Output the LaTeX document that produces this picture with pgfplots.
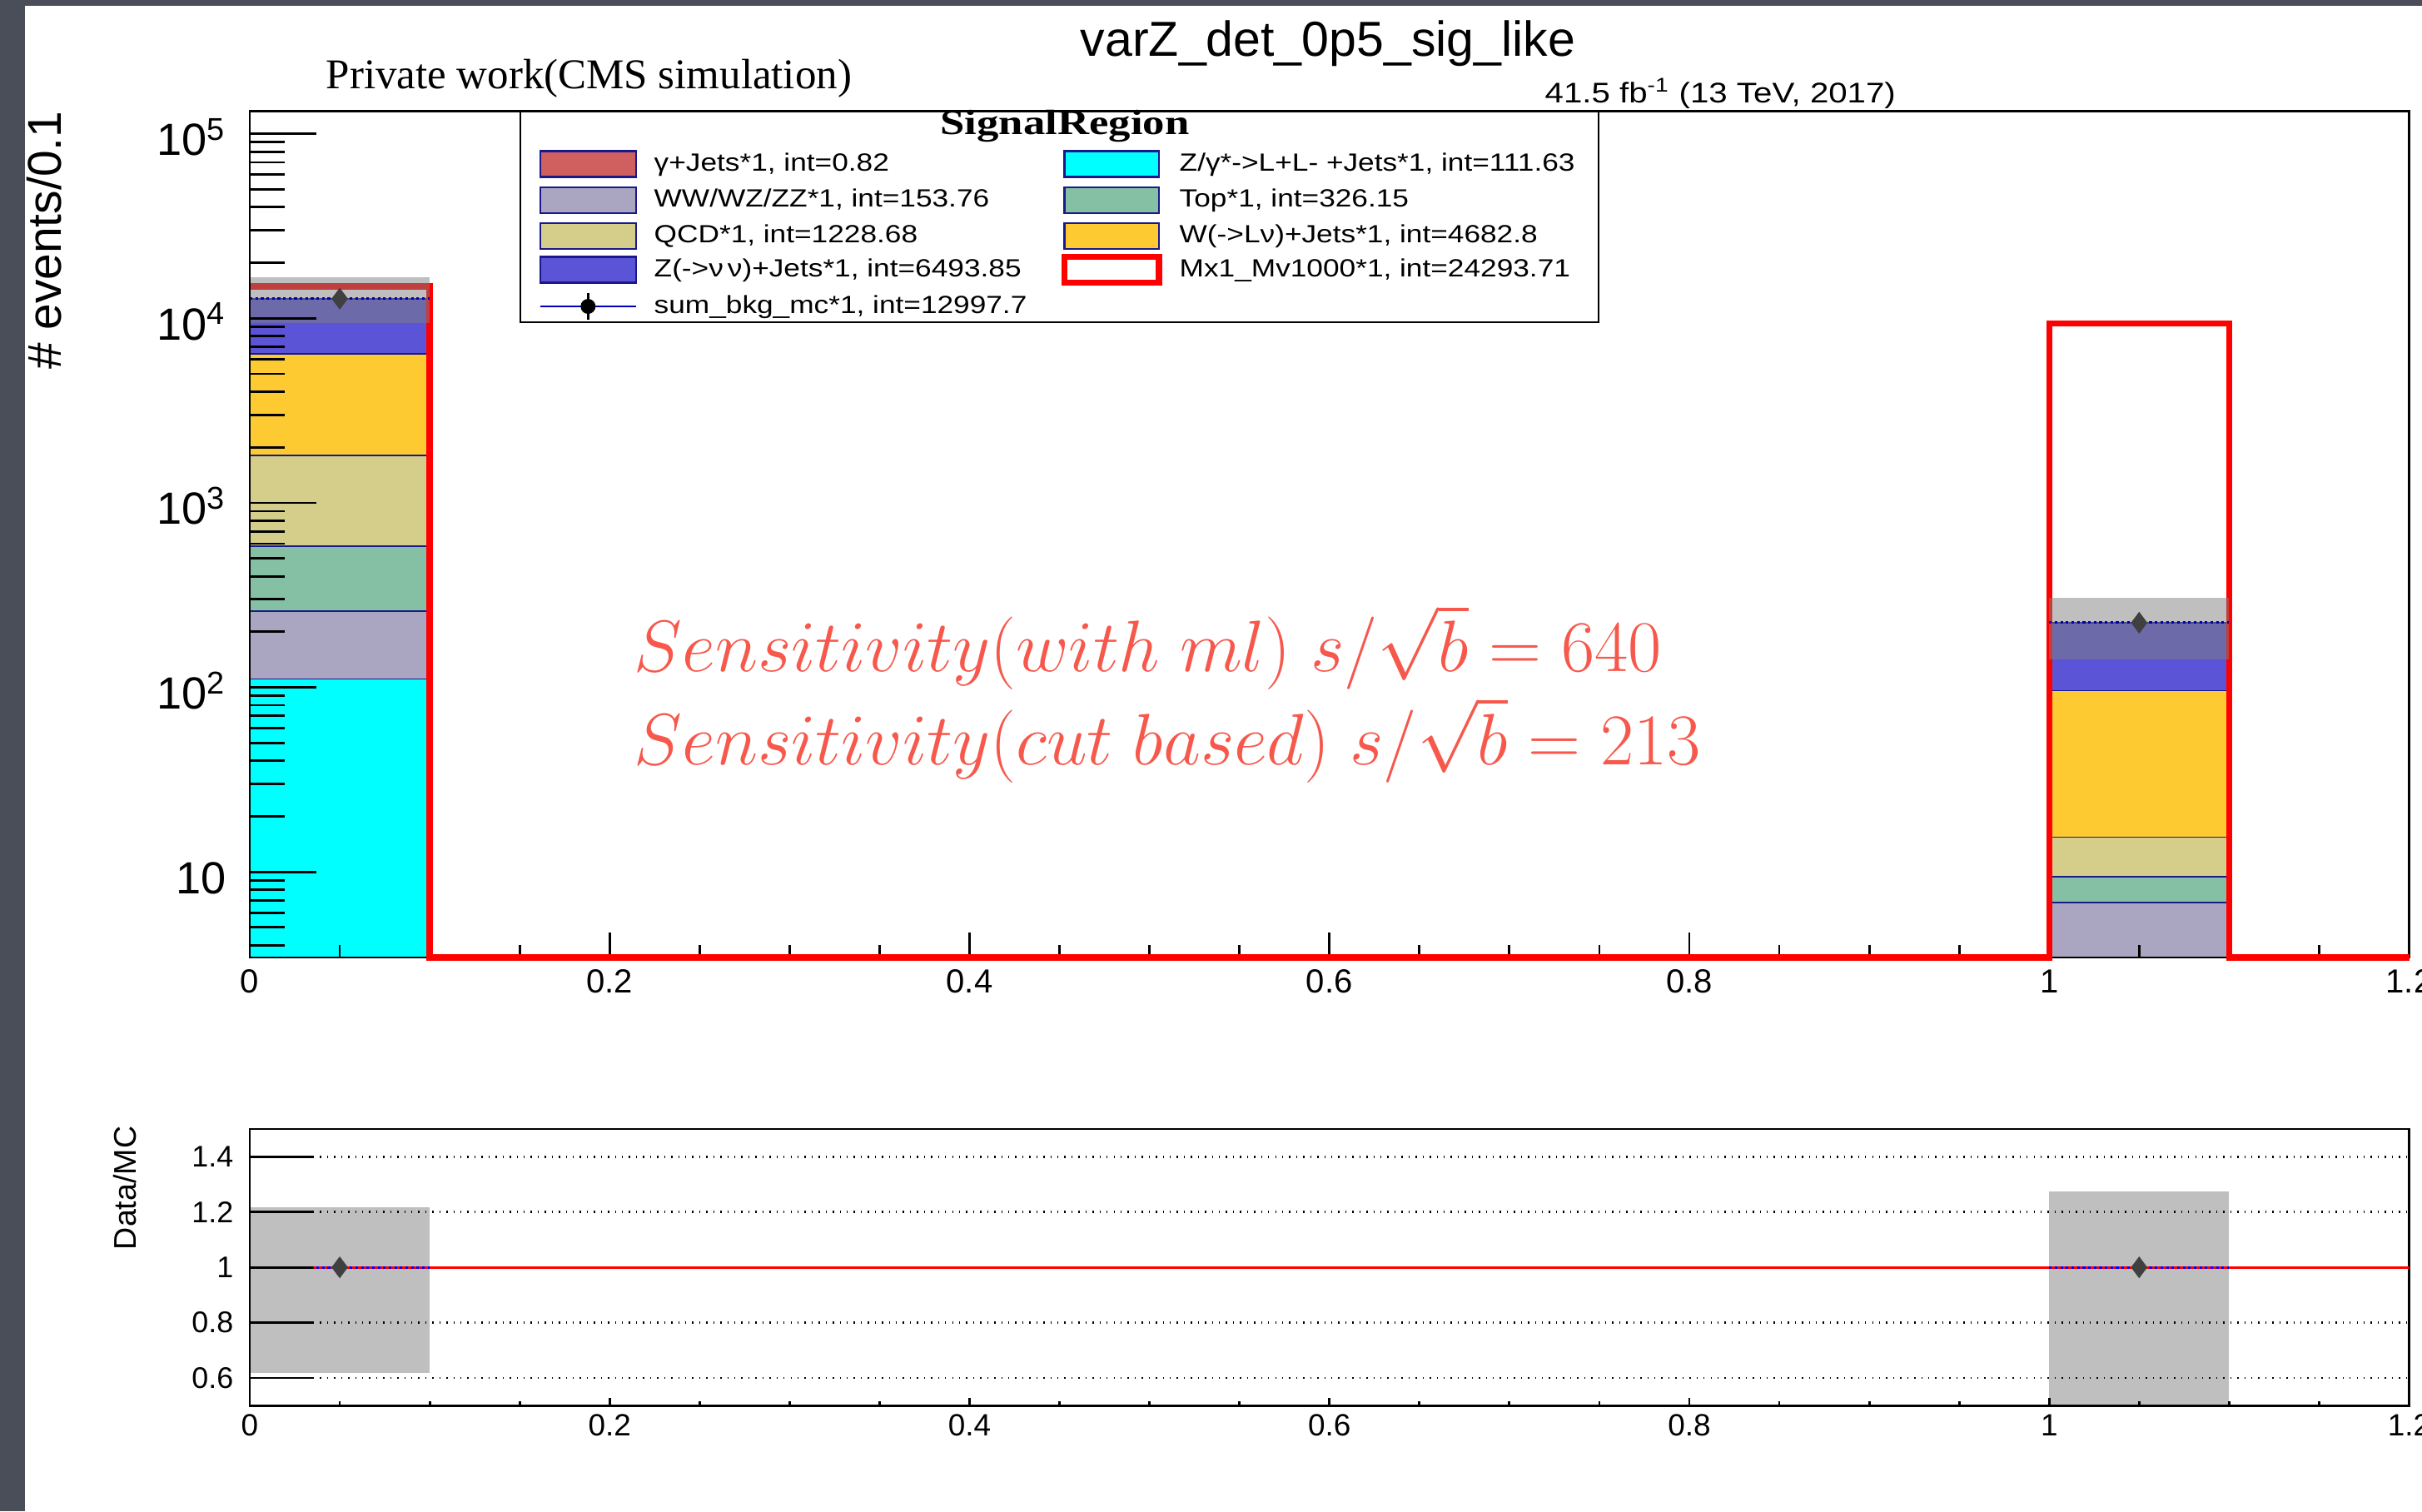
\documentclass[border=0pt]{standalone}
\usepackage{fontspec}
\setmainfont{Liberation Sans}
\newfontfamily\prfont{Liberation Serif}
\newfontfamily\legfont[FakeStretch=1.18]{Liberation Sans}
\newfontfamily\titfont[FakeStretch=1.25]{Liberation Serif}
\usepackage{xcolor}
\usepackage{pgfplots}
\pgfplotsset{compat=1.18}

\definecolor{cgam}{RGB}{208,95,95}
\definecolor{cvv}{RGB}{170,166,194}
\definecolor{cqcd}{RGB}{212,206,138}
\definecolor{cznn}{RGB}{91,84,214}
\definecolor{cdy}{RGB}{0,255,255}
\definecolor{ctop}{RGB}{134,192,164}
\definecolor{cw}{RGB}{254,202,50}
\definecolor{cnavy}{RGB}{25,25,140}
\definecolor{csens}{RGB}{247,88,76}
\definecolor{slate}{RGB}{74,78,88}

\newcommand{\fs}[1]{\fontsize{#1}{#1}\selectfont}

\begin{document}
\begin{tikzpicture}
\useasboundingbox (0,0) rectangle (29.09,-18.15);
\clip (0,0) rectangle (29.09,-18.15);
\fill[white] (0,0) rectangle (29.09,-18.15);
\fill[slate] (0,0) rectangle (0.30,-18.15);
\fill[slate] (0,0) rectangle (29.09,-0.074);

% stacked backgrounds (cumulative heights, bin 0-0.1 and bin 1.0-1.1)
\begin{axis}[scale only axis, width=25.935cm, height=10.167cm, at={(3cm,-11.5cm)}, anchor=south west,
  xmin=0, xmax=1.2, ymode=log, ymin=3.434, ymax=1.329e5,
  xtick=\empty, ytick=\empty, axis line style={line width=0.8pt}]
  \addplot[draw=cnavy, line width=0.5pt, fill=cgam] coordinates {(0,1) (0,12773.7) (0.1,12773.7) (0.1,1) (1,1) (1,224) (1.1,224) (1.1,1)};
  \addplot[draw=cnavy, line width=0.5pt, fill=cznn] coordinates {(0,1) (0,12772.9) (0.1,12772.9) (0.1,1) (1,1) (1,224) (1.1,224) (1.1,1)};
  \addplot[draw=cnavy, line width=0.5pt, fill=cw] coordinates {(0,1) (0,6407.0) (0.1,6407.0) (0.1,1) (1,1) (1,96.0) (1.1,96.0) (1.1,1)};
  \addplot[draw=cnavy, line width=0.5pt, fill=cqcd] coordinates {(0,1) (0,1804.8) (0.1,1804.8) (0.1,1) (1,1) (1,15.4) (1.1,15.4) (1.1,1)};
  \addplot[draw=cnavy, line width=0.5pt, fill=ctop] coordinates {(0,1) (0,582.1) (0.1,582.1) (0.1,1) (1,1) (1,9.43) (1.1,9.43) (1.1,1)};
  \addplot[draw=cnavy, line width=0.5pt, fill=cvv] coordinates {(0,1) (0,258.6) (0.1,258.6) (0.1,1) (1,1) (1,6.83) (1.1,6.83) (1.1,1)};
  \addplot[draw=cnavy, line width=0.5pt, fill=cdy] coordinates {(0,1) (0,111.0) (0.1,111.0) (0.1,1) (1,1) (1,0.63) (1.1,0.63) (1.1,1)};
\end{axis}

% x ticks of the main panel
\begin{axis}[scale only axis, width=25.935cm, height=10.167cm, at={(3cm,-11.5cm)}, anchor=south west,
  xmin=0, xmax=1.2, ymode=log, ymin=3.434, ymax=1.329e5,
  hide y axis, axis x line*=bottom, x axis line style={line width=0.8pt},
  xtick={0,0.2,0.4,0.6,0.8,1,1.2}, xticklabels={0,0.2,0.4,0.6,0.8,1,1.2},
  minor x tick num=3, tick align=inside,
  major tick length=0.30cm, minor tick length=0.15cm,
  tick style={line width=0.8pt, black},
  xticklabel style={font=\fs{11.4}, anchor=north, inner sep=0pt, yshift=-0.14cm}]
\end{axis}

% signal, uncertainty band and summed background
\begin{axis}[scale only axis, width=25.935cm, height=10.167cm, at={(3cm,-11.5cm)}, anchor=south west,
  xmin=0, xmax=1.2, ymode=log, ymin=3.434, ymax=1.329e5,
  axis lines=none, clip=false]
  \addplot[red, line width=2.1pt] coordinates {(0,14890) (0.1,14890) (0.1,3.434) (1,3.434) (1,9403.7) (1.1,9403.7) (1.1,3.434) (1.2,3.434)};
  \addplot[fill=gray, fill opacity=0.5, draw=none] coordinates {(0,9400) (0.1,9400) (0.1,16760) (0,16760)};
  \addplot[fill=gray, fill opacity=0.5, draw=none] coordinates {(1,141) (1.1,141) (1.1,307) (1,307)};
  \addplot[blue!70!black, densely dotted, line width=0.9pt, unbounded coords=jump] coordinates {(0,12773.7) (0.1,12773.7) (0.5,nan) (1,224) (1.1,224)};
  \addplot[only marks, mark=diamond*, mark size=3.4pt, black!75] coordinates {(0.05,12773.7) (1.05,224)};
\end{axis}

% y ticks of the main panel
\begin{axis}[scale only axis, width=25.935cm, height=10.167cm, at={(3cm,-11.5cm)}, anchor=south west,
  xmin=0, xmax=1.2, ymode=log, ymin=3.434, ymax=1.329e5,
  hide x axis, axis y line*=left, y axis line style={line width=0.8pt},
  ytick={10,100,1000,10000,100000},
  yticklabels={10,10\textsuperscript{2},10\textsuperscript{3},10\textsuperscript{4},10\textsuperscript{5}},
  minor ytick={4,5,6,7,8,9,20,30,40,50,60,70,80,90,200,300,400,500,600,700,800,900,2000,3000,4000,5000,6000,7000,8000,9000,20000,30000,40000,50000,60000,70000,80000,90000},
  tick align=inside, major tick length=0.80cm, minor tick length=0.42cm,
  tick style={line width=0.8pt, black},
  yticklabel style={font=\fs{15.4}, anchor=base east, inner sep=0pt, xshift=-0.28cm, yshift=-0.26cm}]
\end{axis}

% ratio panel
\begin{axis}[scale only axis, width=25.935cm, height=3.323cm, at={(3cm,-16.883cm)}, anchor=south west,
  xmin=0, xmax=1.2, ymin=0.5, ymax=1.5,
  xtick=\empty, ytick=\empty, axis line style={line width=0.8pt}]
  \addplot[fill=gray, fill opacity=0.5, draw=none] coordinates {(0,0.618) (0.1,0.618) (0.1,1.216) (0,1.216)};
  \addplot[fill=gray, fill opacity=0.5, draw=none] coordinates {(1,0.45) (1.1,0.45) (1.1,1.273) (1,1.273)};
  \addplot[red, line width=0.9pt] coordinates {(0,1) (1.2,1)};
  \addplot[blue, densely dotted, line width=0.9pt, unbounded coords=jump] coordinates {(0,1) (0.1,1) (0.5,nan) (1,1) (1.1,1)};
  \addplot[only marks, mark=diamond*, mark size=3.4pt, black!75] coordinates {(0.05,1) (1.05,1)};
\end{axis}

\begin{axis}[scale only axis, width=25.935cm, height=3.323cm, at={(3cm,-16.883cm)}, anchor=south west,
  xmin=0, xmax=1.2, ymin=0.5, ymax=1.5,
  hide x axis, axis y line*=left, y axis line style={line width=0.8pt},
  ytick={0.6,0.8,1.2,1.4}, yticklabels={0.6,0.8,1.2,1.4},
  extra y ticks={1}, extra y tick labels={1}, extra y tick style={grid=none},
  ymajorgrids, major grid style={black, dotted, line width=0.8pt},
  tick align=inside, major tick length=0.76cm, tick style={line width=0.8pt, black},
  yticklabel style={font=\fs{10.2}, anchor=east, inner sep=0pt, xshift=-0.19cm}]
\end{axis}

\begin{axis}[scale only axis, width=25.935cm, height=3.323cm, at={(3cm,-16.883cm)}, anchor=south west,
  xmin=0, xmax=1.2, ymin=0.5, ymax=1.5,
  hide y axis, axis x line*=bottom, x axis line style={line width=0.8pt},
  xtick={0,0.2,0.4,0.6,0.8,1,1.2}, xticklabels={0,0.2,0.4,0.6,0.8,1,1.2},
  minor x tick num=3, tick align=inside,
  major tick length=0.09cm, minor tick length=0.05cm,
  tick style={line width=0.8pt, black},
  xticklabel style={font=\fs{10.5}, anchor=north, inner sep=0pt, yshift=-0.10cm}]
\end{axis}

% texts
\node[anchor=base, font=\fs{16.8}, inner sep=0pt] at (15.95,-0.67) {varZ\_det\_0p5\_sig\_like};
\node[anchor=base west, font=\legfont\fs{9.7}, inner sep=0pt] at (18.55,-1.233) {41.5 fb\textsuperscript{-1} (13 TeV, 2017)};
\node[anchor=base west, font=\prfont\fs{14.5}, inner sep=0pt] at (3.91,-1.067) {Private work(CMS simulation)};
\node[rotate=90, anchor=base east, font=\fs{16.2}, inner sep=0pt] at (0.73,-1.33) {\# events/0.1};
\node[rotate=90, anchor=base east, font=\fs{10.7}, inner sep=0pt] at (1.63,-13.52) {Data/MC};

\node[anchor=base west, inner sep=0pt, text=csens, font=\fs{24.5}] at (7.61,-8.067) {$Sensitivity(with\ ml)\ s/\sqrt{b} = 640$};
\node[anchor=base west, inner sep=0pt, text=csens, font=\fs{24.5}] at (7.61,-9.18) {$Sensitivity(cut\ based)\ s/\sqrt{b} = 213$};

% legend
\draw[line width=0.6pt, fill=white] (6.25,-1.34) rectangle (19.20,-3.867);
\node[anchor=base, font=\titfont\bfseries\fs{12}, inner sep=0pt] at (12.79,-1.617) {SignalRegion};
\begin{scope}[every node/.style={anchor=base west, inner sep=0pt, font=\legfont\fs{8.5}}]
  \draw[cnavy, line width=0.6pt, fill=cgam] (6.49,-1.815) rectangle (7.636,-2.125);
  \node at (7.85,-2.05) {γ+Jets*1, int=0.82};
  \draw[cnavy, line width=0.6pt, fill=cvv] (6.49,-2.25) rectangle (7.636,-2.56);
  \node at (7.85,-2.485) {WW/WZ/ZZ*1, int=153.76};
  \draw[cnavy, line width=0.6pt, fill=cqcd] (6.49,-2.68) rectangle (7.636,-2.99);
  \node at (7.85,-2.915) {QCD*1, int=1228.68};
  \draw[cnavy, line width=0.6pt, fill=cznn] (6.49,-3.085) rectangle (7.636,-3.395);
  \node at (7.85,-3.32) {Z(->ν\,ν)+Jets*1, int=6493.85};
  \draw[blue!70!black, line width=0.8pt] (6.49,-3.68) -- (7.636,-3.68);
  \draw[black, line width=0.8pt] (7.063,-3.52) -- (7.063,-3.84);
  \fill[black] (7.063,-3.68) circle (0.09);
  \node at (7.85,-3.76) {sum\_bkg\_mc*1, int=12997.7};
  \draw[cnavy, line width=0.6pt, fill=cdy] (12.785,-1.815) rectangle (13.92,-2.125);
  \node at (14.16,-2.05) {Z/γ*->L+L- +Jets*1, int=111.63};
  \draw[cnavy, line width=0.6pt, fill=ctop] (12.785,-2.25) rectangle (13.92,-2.56);
  \node at (14.16,-2.485) {Top*1, int=326.15};
  \draw[cnavy, line width=0.6pt, fill=cw] (12.785,-2.68) rectangle (13.92,-2.99);
  \node at (14.16,-2.915) {W(->Lν)+Jets*1, int=4682.8};
  \draw[red, line width=2pt, fill=white] (12.785,-3.085) rectangle (13.92,-3.395);
  \node at (14.16,-3.32) {Mx1\_Mv1000*1, int=24293.71};
\end{scope}
\end{tikzpicture}
\end{document}
